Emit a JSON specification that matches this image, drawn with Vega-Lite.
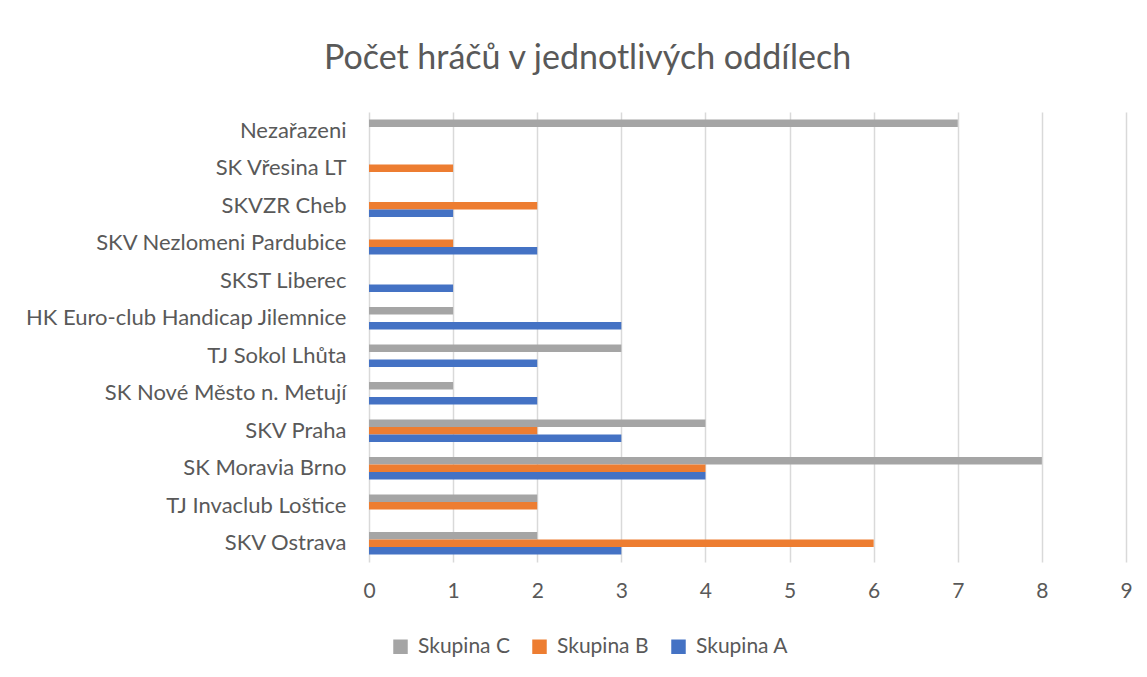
{
  "$schema": "https://vega.github.io/schema/vega-lite/v6.json",
  "autosize": {"type": "none"},
  "width": 757,
  "height": 450,
  "padding": {"left": 369, "top": 112, "right": 21, "bottom": 115},
  "background": "white",
  "title": {
    "text": "Počet hráčů v jednotlivých oddílech",
    "anchor": "middle",
    "dx": -160,
    "offset": 9,
    "baseline": "alphabetic",
    "font": "Lato",
    "fontSize": 34,
    "fontWeight": "normal",
    "color": "#595959"
  },
  "data": {
    "values": [
      {"oddil": "SKV Ostrava", "skupina": "Skupina C", "pocet": 2},
      {"oddil": "SKV Ostrava", "skupina": "Skupina B", "pocet": 6},
      {"oddil": "SKV Ostrava", "skupina": "Skupina A", "pocet": 3},
      {"oddil": "TJ Invaclub Loštice", "skupina": "Skupina C", "pocet": 2},
      {"oddil": "TJ Invaclub Loštice", "skupina": "Skupina B", "pocet": 2},
      {"oddil": "SK Moravia Brno", "skupina": "Skupina C", "pocet": 8},
      {"oddil": "SK Moravia Brno", "skupina": "Skupina B", "pocet": 4},
      {"oddil": "SK Moravia Brno", "skupina": "Skupina A", "pocet": 4},
      {"oddil": "SKV Praha", "skupina": "Skupina C", "pocet": 4},
      {"oddil": "SKV Praha", "skupina": "Skupina B", "pocet": 2},
      {"oddil": "SKV Praha", "skupina": "Skupina A", "pocet": 3},
      {"oddil": "SK Nové Město n. Metují", "skupina": "Skupina C", "pocet": 1},
      {"oddil": "SK Nové Město n. Metují", "skupina": "Skupina A", "pocet": 2},
      {"oddil": "TJ Sokol Lhůta", "skupina": "Skupina C", "pocet": 3},
      {"oddil": "TJ Sokol Lhůta", "skupina": "Skupina A", "pocet": 2},
      {"oddil": "HK Euro-club Handicap Jilemnice", "skupina": "Skupina C", "pocet": 1},
      {"oddil": "HK Euro-club Handicap Jilemnice", "skupina": "Skupina A", "pocet": 3},
      {"oddil": "SKST Liberec", "skupina": "Skupina A", "pocet": 1},
      {"oddil": "SKV Nezlomeni Pardubice", "skupina": "Skupina B", "pocet": 1},
      {"oddil": "SKV Nezlomeni Pardubice", "skupina": "Skupina A", "pocet": 2},
      {"oddil": "SKVZR Cheb", "skupina": "Skupina B", "pocet": 2},
      {"oddil": "SKVZR Cheb", "skupina": "Skupina A", "pocet": 1},
      {"oddil": "SK Vřesina LT", "skupina": "Skupina B", "pocet": 1},
      {"oddil": "Nezařazeni", "skupina": "Skupina C", "pocet": 7}
    ]
  },
  "mark": {"type": "bar"},
  "encoding": {
    "y": {
      "field": "oddil",
      "type": "nominal",
      "sort": ["Nezařazeni", "SK Vřesina LT", "SKVZR Cheb", "SKV Nezlomeni Pardubice", "SKST Liberec", "HK Euro-club Handicap Jilemnice", "TJ Sokol Lhůta", "SK Nové Město n. Metují", "SKV Praha", "SK Moravia Brno", "TJ Invaclub Loštice", "SKV Ostrava"],
      "scale": {"paddingInner": 0.4, "paddingOuter": 0.2},
      "axis": {
        "title": null,
        "domain": false,
        "ticks": false,
        "grid": false,
        "labelPadding": 23,
        "labelFont": "Lato",
        "labelFontSize": 22,
        "labelColor": "#595959",
        "labelLimit": 400
      }
    },
    "yOffset": {
      "field": "skupina",
      "type": "nominal",
      "sort": ["Skupina C", "Skupina B", "Skupina A"],
      "scale": {"paddingInner": 0, "paddingOuter": 0}
    },
    "x": {
      "field": "pocet",
      "type": "quantitative",
      "scale": {"domain": [0, 9], "nice": false},
      "axis": {
        "title": null,
        "domain": false,
        "ticks": false,
        "values": [0, 1, 2, 3, 4, 5, 6, 7, 8, 9],
        "grid": true,
        "gridColor": "#D9D9D9",
        "gridWidth": 1.5,
        "labelFlush": false,
        "labelPadding": 18,
        "labelFont": "Lato",
        "labelFontSize": 21,
        "labelColor": "#595959"
      }
    },
    "color": {
      "field": "skupina",
      "type": "nominal",
      "sort": ["Skupina C", "Skupina B", "Skupina A"],
      "scale": {"domain": ["Skupina C", "Skupina B", "Skupina A"], "range": ["#A5A5A5", "#ED7D31", "#4472C4"]},
      "legend": {
        "title": null,
        "orient": "none",
        "direction": "horizontal",
        "legendX": 21,
        "legendY": 524,
        "padding": 0,
        "symbolType": "square",
        "symbolSize": 210,
        "symbolStrokeWidth": 0,
        "symbolOpacity": 1,
        "labelOffset": 7,
        "columnPadding": 19,
        "labelFont": "Lato",
        "labelFontSize": 21,
        "labelColor": "#595959"
      }
    }
  },
  "config": {
    "view": {"stroke": null}
  }
}
